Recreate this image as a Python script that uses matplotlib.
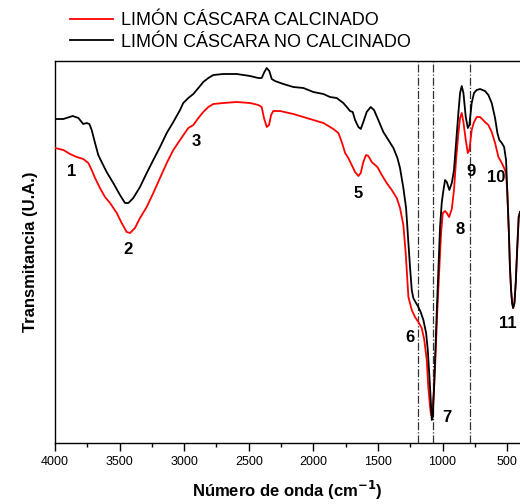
import matplotlib
matplotlib.use("Agg")
import matplotlib.pyplot as plt
from matplotlib.ticker import MultipleLocator, NullLocator

plt.rcParams['font.family'] = ['Liberation Sans', 'DejaVu Sans']

# Wavenumber (cm-1) and transmittance (a.u.)
wn_black = [4000, 3935, 3863, 3819, 3781, 3755, 3734, 3716, 3690, 3665, 3639, 3600,
            3549, 3497, 3458, 3432, 3394, 3342, 3290, 3239, 3187, 3135, 3084, 3032,
            3007, 2968, 2929, 2890, 2852, 2813, 2774, 2697, 2593, 2490, 2426, 2400,
            2379, 2361, 2341, 2322, 2297, 2232, 2155, 2077, 2000, 1922, 1871, 1819,
            1768, 1741, 1716, 1695, 1677, 1651, 1633, 1613, 1587, 1556, 1530, 1497,
            1458, 1419, 1380, 1349, 1329, 1303, 1282, 1264, 1251, 1238, 1226, 1205,
            1187, 1169, 1148, 1127, 1114, 1101, 1091, 1083, 1075, 1065, 1055, 1044,
            1031, 1019, 1006, 996, 980, 967, 947, 928, 911, 895, 877, 864, 851, 838,
            820, 804, 792, 774, 756, 735, 709, 671, 645, 619, 593, 575, 560, 541,
            523, 508, 498, 486, 478, 469, 461, 453, 443, 433, 422, 410, 400]
t_black = [324, 324, 327, 325, 319, 320, 319, 313, 300, 288, 281, 271,
           260, 248, 240, 240, 245, 256, 270, 283, 296, 310, 321, 333,
           340, 345, 349, 355, 361, 365, 368, 369, 369, 367, 365, 365,
           371, 375, 372, 364, 362, 359, 356, 355, 351, 349, 346, 345,
           340, 336, 332, 331, 323, 316, 314, 321, 331, 336, 333, 323,
           311, 303, 295, 285, 275, 255, 235, 200, 175, 153, 145, 140,
           136, 131, 123, 110, 93, 66, 43, 23, 26, 56, 93, 133,
           176, 216, 240, 250, 263, 261, 253, 260, 273, 300, 330, 350, 357, 350,
           326, 315, 318, 340, 350, 353, 354, 352, 348, 340, 325, 310, 303, 300,
           296, 283, 250, 210, 176, 153, 140, 135, 140, 160, 193, 226, 231]

wn_red = [4000, 3935, 3884, 3832, 3781, 3742, 3716, 3690, 3652, 3613, 3574, 3522,
          3484, 3445, 3419, 3381, 3342, 3290, 3239, 3187, 3135, 3084, 3032, 2968,
          2929, 2890, 2852, 2813, 2774, 2697, 2593, 2490, 2426, 2400, 2382, 2361,
          2343, 2327, 2310, 2258, 2155, 2077, 2000, 1922, 1845, 1806, 1780, 1754,
          1729, 1703, 1677, 1651, 1633, 1613, 1592, 1574, 1548, 1504, 1470, 1432,
          1393, 1354, 1329, 1303, 1285, 1264, 1238, 1213, 1187, 1161, 1141, 1122,
          1110, 1096, 1089, 1078, 1065, 1052, 1040, 1024, 1011, 998, 980, 967, 949,
          928, 911, 895, 877, 864, 851, 838, 820, 804, 792, 774, 756, 735, 709,
          671, 645, 619, 593, 567, 541, 523, 508, 498, 486, 478, 469, 461, 453,
          443, 433, 422, 410, 400]
t_red = [295, 293, 289, 286, 284, 280, 273, 265, 255, 246, 240, 230,
         220, 211, 210, 215, 225, 236, 250, 265, 280, 293, 303, 315,
         318, 325, 331, 336, 339, 340, 341, 340, 338, 336, 325, 316,
         318, 328, 332, 332, 329, 326, 323, 320, 314, 310, 301, 290,
         285, 278, 271, 267, 270, 281, 288, 287, 281, 276, 268, 260,
         253, 245, 235, 218, 190, 146, 133, 126, 121, 115, 103, 83,
         56, 36, 28, 33, 56, 93, 133, 176, 210, 230, 232, 230, 226,
         234, 253, 283, 310, 325, 330, 321, 303, 290, 293, 313, 321, 326, 326,
         321, 318, 311, 300, 286, 280, 275, 270, 250, 210, 176, 153, 140, 135,
         140, 160, 193, 226, 231]

vlines_wn = [1190, 1075, 790]

peak_labels = ['1', '2', '3', '5', '6', '7', '8', '9', '10', '11']
peak_wn = [3868, 3435, 2908, 1654, 1251, 965, 864, 779, 585, 492]
peak_t = [271, 193, 302, 250, 106, 26, 214, 272, 265, 120]

series_names = ['LIMÓN CÁSCARA CALCINADO', 'LIMÓN CÁSCARA NO CALCINADO']

fig = plt.figure(figsize=(5.2, 5.04), dpi=100)
ax = fig.add_axes([55/520, 1-443/504, 1-55/520, (443-61)/504])

l_red, = ax.plot(wn_red, t_red, color='#ff0000', lw=1.3, label=series_names[0], zorder=3)
l_blk, = ax.plot(wn_black, t_black, color='black', lw=1.3, label=series_names[1], zorder=4)

for v in vlines_wn:
    ax.axvline(v, color='#333333', lw=0.9, ls='-.', zorder=2)

for lab, x, y in zip(peak_labels, peak_wn, peak_t):
    ax.text(x, y, lab, fontsize=12, fontweight='bold', ha='center', va='center', zorder=5)

ax.set_xlim(4000, 400)
ax.set_ylim(0, 382)
ax.xaxis.set_major_locator(MultipleLocator(500))
ax.xaxis.set_minor_locator(MultipleLocator(250))
ax.yaxis.set_major_locator(NullLocator())
ax.tick_params(axis='x', which='major', direction='out', length=6, width=1, labelsize=9)
ax.tick_params(axis='x', which='minor', direction='out', length=3, width=1)
ax.spines['right'].set_visible(False)
for s in ['left', 'bottom', 'top']:
    ax.spines[s].set_linewidth(1.0)

ax.set_xlabel('Número de onda (cm$^{\\mathbf{-1}}$)', fontsize=12, fontweight='bold', labelpad=8)
ax.set_ylabel('Transmitancia (U.A.)', fontsize=12, fontweight='bold', labelpad=12)

fig.legend(handles=[l_red, l_blk], labels=series_names, loc='upper left',
           bbox_to_anchor=(70/520, 1-12/504), frameon=False, fontsize=13,
           handlelength=2.4, handletextpad=0.4, labelspacing=0.25,
           borderpad=0, borderaxespad=0)

fig.savefig('out.png', dpi=100)
